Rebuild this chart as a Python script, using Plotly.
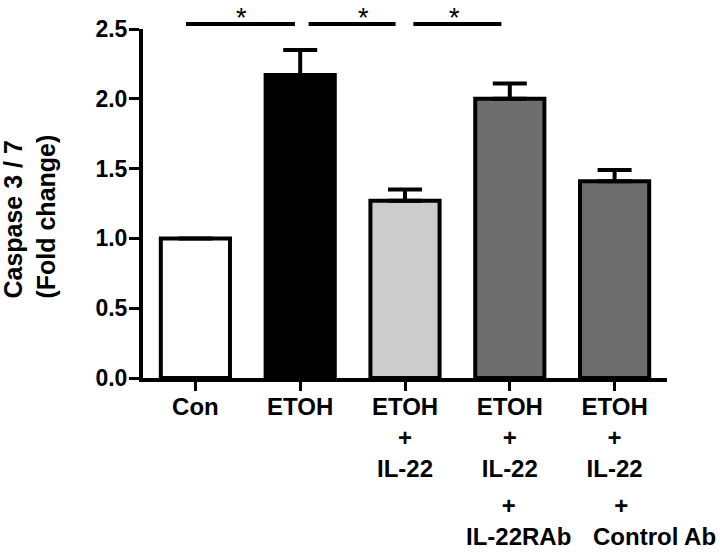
import plotly.graph_objects as go

categories = ["Con", "ETOH", "ETOH+IL-22", "ETOH+IL-22+IL-22RAb", "ETOH+IL-22+Control Ab"]
values = [1.0, 2.17, 1.27, 2.0, 1.41]
errors = [0.0, 0.18, 0.08, 0.11, 0.08]
colors = ["#ffffff", "#000000", "#cccccc", "#6e6e6e", "#6e6e6e"]
tick_labels = ["Con", "ETOH", "ETOH<br>+<br>IL-22", "ETOH<br>+<br>IL-22", "ETOH<br>+<br>IL-22"]
extra_labels = ["", "", "", "IL-22RAb", "Control Ab"]
y_ticks = [0.0, 0.5, 1.0, 1.5, 2.0, 2.5]
# significance comparisons: (start category index, end category index)
sig_pairs = [(0, 1), (1, 2), (2, 3)]
sig_label = "*"

FONT = "Liberation Sans, Arial, sans-serif"
x_idx = list(range(len(categories)))
NBSP = "\u00a0"

fig = go.Figure()
fig.add_trace(go.Bar(
    x=x_idx, y=values, width=0.66,
    marker=dict(color=colors, line=dict(color="black", width=4)),
    error_y=dict(type="data", array=errors, arrayminus=[0] * len(errors),
                 symmetric=False, color="black", thickness=4, width=17),
    showlegend=False, hoverinfo="skip",
))

shapes = []
annotations = []
sig_ends = {(0, 1): (-0.09, 0.95), (1, 2): (1.08, 1.91), (2, 3): (2.08, 2.92)}
star_x = {(0, 1): 0.44, (1, 2): 1.6, (2, 3): 2.47}
for pair in sig_pairs:
    x0, x1 = sig_ends[pair]
    shapes.append(dict(type="line", xref="x", yref="paper", x0=x0, x1=x1,
                       y0=1.014, y1=1.014, line=dict(color="black", width=4)))
    annotations.append(dict(x=star_x[pair], y=1.083, xref="x", yref="paper",
                            text=sig_label, showarrow=False,
                            font=dict(family=FONT, size=27, color="black"),
                            xanchor="center", yanchor="top", yshift=-1))

# second "+" row and last label row under the last two categories
label_shift = {3: 9, 4: 40}
plus_pad = {3: 3, 4: 10}   # non-breaking spaces after "+" to nudge it left
for i in x_idx:
    if extra_labels[i]:
        annotations.append(dict(x=i, y=-0.499, xref="x", yref="paper",
                                text="+" + NBSP * plus_pad[i] + "<br>" + extra_labels[i],
                                showarrow=False, xanchor="center", yanchor="bottom",
                                align="center", xshift=label_shift[i],
                                font=dict(family=FONT, size=24, color="black", weight="bold")))

annotations.append(dict(x=-0.216, y=0.462, xref="paper", yref="paper",
                        text="Caspase 3 / 7<br>(Fold change)", textangle=-90,
                        showarrow=False, align="left", xanchor="center", yanchor="middle",
                        font=dict(family=FONT, size=25, color="black", weight="bold")))

fig.update_layout(
    width=720, height=553,
    margin=dict(l=143, r=53, t=29, b=175),
    paper_bgcolor="white", plot_bgcolor="white",
    shapes=shapes, annotations=annotations,
    xaxis=dict(range=[-0.5, 4.5], tickmode="array", tickvals=x_idx, ticktext=tick_labels,
               showline=True, linecolor="black", linewidth=4, ticks="outside",
               ticklen=9, tickwidth=3, tickcolor="black", showgrid=False, zeroline=False,
               ticklabelstandoff=-5, automargin=False,
               tickfont=dict(family=FONT, size=24, color="black", weight="bold")),
    yaxis=dict(range=[0, 2.5], tickmode="array", tickvals=y_ticks,
               ticktext=[f"{v:.1f}" for v in y_ticks],
               showline=True, linecolor="black", linewidth=4, ticks="outside",
               ticklen=10, tickwidth=3, tickcolor="black", showgrid=False, zeroline=False,
               ticklabelstandoff=-3, automargin=False,
               tickfont=dict(family=FONT, size=23, color="black", weight="bold")),
)

# remove the browser's default 8px body margin so the figure sits at the page origin
fig.write_html("out.html", config={"displayModeBar": False},
               post_script="document.body.style.margin='0px';")
